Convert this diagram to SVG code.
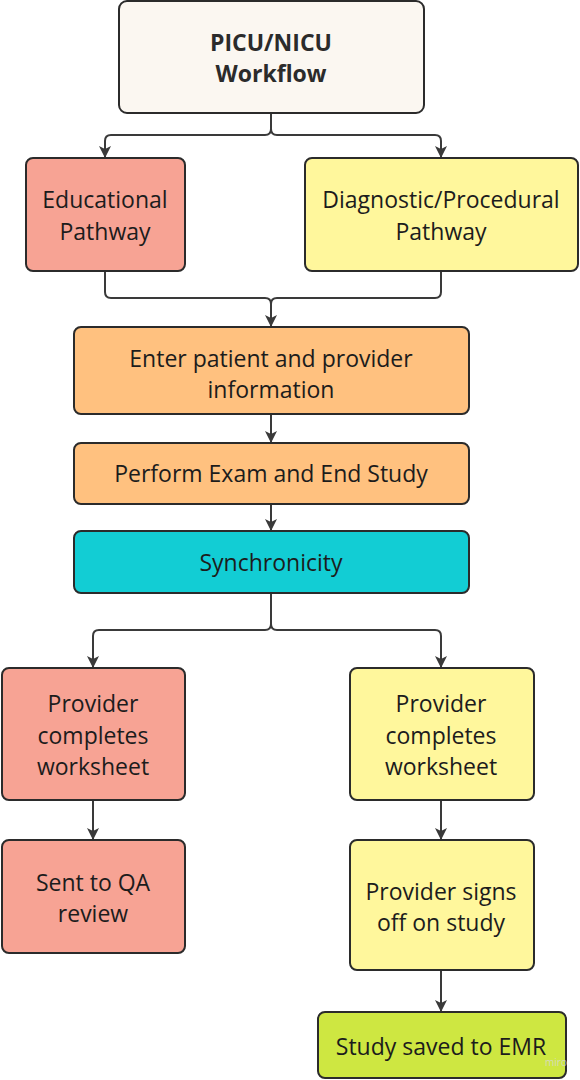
<svg xmlns="http://www.w3.org/2000/svg" width="580" height="1080" viewBox="0 0 580 1080">
<style>
.n{stroke:#2b2b2b;stroke-width:2}
.t{font-family:"Open Sans","Noto Sans","Liberation Sans",sans-serif;font-size:23px;fill:#1c1c1c;text-anchor:middle}
.b{font-weight:bold;fill:#2b2b2b}
.c{fill:none;stroke:#3a3a3a;stroke-width:2}
</style>
<defs>
<marker id="ah" markerWidth="14" markerHeight="14" refX="11" refY="7" orient="auto" markerUnits="userSpaceOnUse">
<path d="M0,1 L12,7 L0,13 L3,7 z" fill="#3a3a3a"/>
</marker>
</defs>
<g id="connectors">
<path class="c" d="M271,113 V129 Q271,135 265,135 H111 Q105,135 105,141 V157" marker-end="url(#ah)"/>
<path class="c" d="M271,113 V129 Q271,135 277,135 H435 Q441,135 441,141 V157" marker-end="url(#ah)"/>
<path class="c" d="M105,271 V292 Q105,298 111,298 H265 Q271,298 271,304 V326" marker-end="url(#ah)"/>
<path class="c" d="M441,271 V292 Q441,298 435,298 H277 Q271,298 271,304 V326"/>
<path class="c" d="M271,414 V442" marker-end="url(#ah)"/>
<path class="c" d="M271,504 V530" marker-end="url(#ah)"/>
<path class="c" d="M271,593 V624 Q271,630 265,630 H99 Q93,630 93,636 V667" marker-end="url(#ah)"/>
<path class="c" d="M271,593 V624 Q271,630 277,630 H435 Q441,630 441,636 V667" marker-end="url(#ah)"/>
<path class="c" d="M93,800 V839" marker-end="url(#ah)"/>
<path class="c" d="M441,800 V839" marker-end="url(#ah)"/>
<path class="c" d="M441,970 V1011" marker-end="url(#ah)"/>
</g>
<g id="n-title">
<rect class="n" x="119" y="1" width="305" height="112" rx="8" fill="#FBF7F1"/>
<text class="t b" x="271" y="51">PICU/NICU</text>
<text class="t b" x="271" y="82">Workflow</text>
</g>
<g id="n-edu">
<rect class="n" x="26" y="158" width="159" height="113" rx="7" fill="#F7A394"/>
<text class="t" x="105" y="208">Educational</text>
<text class="t" x="105" y="240">Pathway</text>
</g>
<g id="n-diag">
<rect class="n" x="305" y="158" width="273" height="113" rx="7" fill="#FFF79C"/>
<text class="t" x="441" y="208">Diagnostic/Procedural</text>
<text class="t" x="441" y="240">Pathway</text>
</g>
<g id="n-enter">
<rect class="n" x="74" y="327" width="395" height="87" rx="7" fill="#FFC17F"/>
<text class="t" x="271" y="367">Enter patient and provider</text>
<text class="t" x="271" y="398">information</text>
</g>
<g id="n-perform">
<rect class="n" x="74" y="443" width="395" height="61" rx="7" fill="#FFC17F"/>
<text class="t" x="271" y="482">Perform Exam and End Study</text>
</g>
<g id="n-sync">
<rect class="n" x="74" y="531" width="395" height="62" rx="7" fill="#12CDD4"/>
<text class="t" x="271" y="571">Synchronicity</text>
</g>
<g id="n-prov-left">
<rect class="n" x="2" y="668" width="183" height="132" rx="7" fill="#F7A394"/>
<text class="t" x="93" y="712">Provider</text>
<text class="t" x="93" y="744">completes</text>
<text class="t" x="93" y="775">worksheet</text>
</g>
<g id="n-qa">
<rect class="n" x="2" y="840" width="183" height="113" rx="7" fill="#F7A394"/>
<text class="t" x="93" y="891">Sent to QA</text>
<text class="t" x="93" y="922">review</text>
</g>
<g id="n-prov-right">
<rect class="n" x="350" y="668" width="184" height="132" rx="7" fill="#FFF79C"/>
<text class="t" x="441" y="712">Provider</text>
<text class="t" x="441" y="744">completes</text>
<text class="t" x="441" y="775">worksheet</text>
</g>
<g id="n-signs">
<rect class="n" x="350" y="840" width="184" height="130" rx="7" fill="#FFF79C"/>
<text class="t" x="441" y="900">Provider signs</text>
<text class="t" x="441" y="931">off on study</text>
</g>
<g id="n-emr">
<rect class="n" x="318" y="1012" width="248" height="66" rx="7" fill="#CEE741"/>
<text class="t" x="441" y="1055">Study saved to EMR</text>
</g>
<text x="556" y="1066" font-family="Open Sans, sans-serif" font-size="10" fill="#d8d8d8" opacity="0.8" text-anchor="middle">miro</text>
</svg>
